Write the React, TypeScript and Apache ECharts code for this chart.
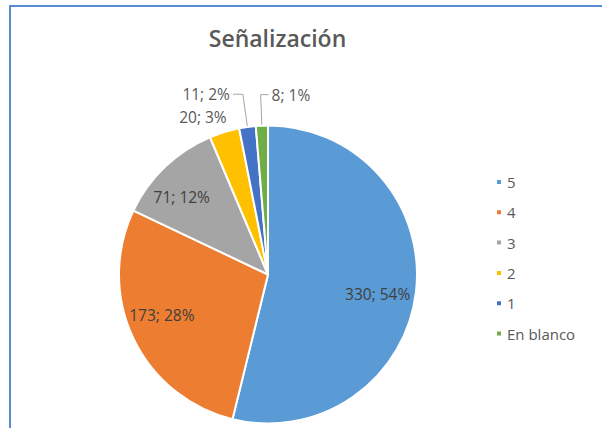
import React, { useEffect, useRef } from "react";
import * as echarts from "echarts";

const TITLE = "Señalización";
const CATEGORIES = ["5", "4", "3", "2", "1", "En blanco"];
const VALUES = [330, 173, 71, 20, 11, 8];
const COLORS = ["#5B9BD5", "#ED7D31", "#A5A5A5", "#FFC000", "#4472C4", "#70AD47"];
// which slices carry their label inside the pie
const INSIDE = [true, true, true, false, false, false];
// outside labels: leader line lengths
const LINE_LEN = [0, 0, 0, 16, 33, 31];
const LINE_LEN2 = [0, 0, 0, 0, 10, 8];
const LINE_SHOW = [false, false, false, false, true, true];
// the outside label that goes to the right side
const FLIP_INDEX = 5;
// small style nudges of the inside labels (px)
const NUDGE_X = [-7, 0, -5, 0, 0, 0];
const NUDGE_Y = [5, -10, 7, 0, 0, 0];

const FONT = "'Open Sans', 'Noto Sans', sans-serif";
const CENTER = [268, 274.5];
const RADIUS = 149;

export default function App() {
  const ref = useRef<HTMLDivElement>(null);

  useEffect(() => {
    if (!ref.current) return;
    const chart = echarts.init(ref.current, null, { renderer: "svg" });

    const mainData = CATEGORIES.map((name, i) => ({
      name,
      value: VALUES[i],
      itemStyle: { color: COLORS[i] },
      label: INSIDE[i]
        ? { show: false }
        : {
            show: true,
            position: "outside",
            distanceToLabelLine: i === 3 ? -7 : 3,
          },
      labelLine: {
        show: !INSIDE[i] && LINE_SHOW[i],
        length: LINE_LEN[i],
        length2: LINE_LEN2[i],
      },
    }));

    const labelData = CATEGORIES.map((name, i) => ({
      name,
      value: VALUES[i],
      label: { show: INSIDE[i] },
    }));

    chart.setOption({
      animation: false,
      backgroundColor: "#ffffff",
      color: COLORS,
      title: {
        text: TITLE,
        left: 277.5,
        top: 26,
        textAlign: "center",
        padding: 0,
        textStyle: {
          fontFamily: FONT,
          fontSize: 23,
          fontWeight: 600,
          color: "#595959",
        },
      },
      legend: {
        orient: "vertical",
        left: 490,
        top: 169,
        icon: "rect",
        itemWidth: 6,
        itemHeight: 6,
        itemGap: 14.3,
        selectedMode: false,
        data: CATEGORIES,
        textStyle: {
          fontFamily: FONT,
          fontSize: 15,
          lineHeight: 16,
          color: "#595959",
        },
      },
      graphic: [
        {
          type: "rect",
          shape: { x: 9, y: 5, width: 600, height: 2 },
          style: { fill: "#5A8AD2" },
          silent: true,
        },
        {
          type: "rect",
          shape: { x: 9, y: 5, width: 2, height: 430 },
          style: { fill: "#5A8AD2" },
          silent: true,
        },
      ],
      series: [
        {
          type: "pie",
          center: CENTER,
          radius: [0, RADIUS],
          startAngle: 90,
          clockwise: true,
          percentPrecision: 0,
          avoidLabelOverlap: false,
          silent: true,
          emphasis: { disabled: true },
          itemStyle: { borderColor: "#ffffff", borderWidth: 2 },
          label: {
            formatter: "{c}; {d}%",
            fontFamily: FONT,
            fontSize: 15.5,
            color: "#595959",
          },
          labelLine: {
            lineStyle: { color: "#A6A6A6", width: 1 },
            smooth: false,
          },
          labelLayout: (p: any) => {
            if (p.dataIndex !== FLIP_INDEX || !p.labelLinePoints) return {};
            const pts = p.labelLinePoints;
            const a = pts[0];
            const b = pts[1];
            const c = pts[2];
            const end = [2 * b[0] - c[0], b[1]];
            return {
              x: end[0] + 3,
              y: b[1],
              align: "left",
              verticalAlign: "middle",
              labelLinePoints: [a, b, end],
            };
          },
          data: mainData,
        },
        {
          type: "pie",
          center: CENTER,
          radius: [80, RADIUS],
          startAngle: 90,
          clockwise: true,
          percentPrecision: 0,
          avoidLabelOverlap: false,
          silent: true,
          emphasis: { disabled: true },
          itemStyle: { color: "rgba(0,0,0,0)", borderWidth: 0 },
          label: {
            position: "inside",
            formatter: "{c}; {d}%",
            fontFamily: FONT,
            fontSize: 15.5,
            color: "#404040",
          },
          labelLine: { show: false },
          labelLayout: (p: any) => ({
            dx: NUDGE_X[p.dataIndex] || 0,
            dy: NUDGE_Y[p.dataIndex] || 0,
          }),
          data: labelData,
        },
      ],
    });

    return () => {
      chart.dispose();
    };
  }, []);

  return (
    <div
      ref={ref}
      style={{ position: "fixed", left: 0, top: 0, width: 602, height: 428 }}
    />
  );
}
